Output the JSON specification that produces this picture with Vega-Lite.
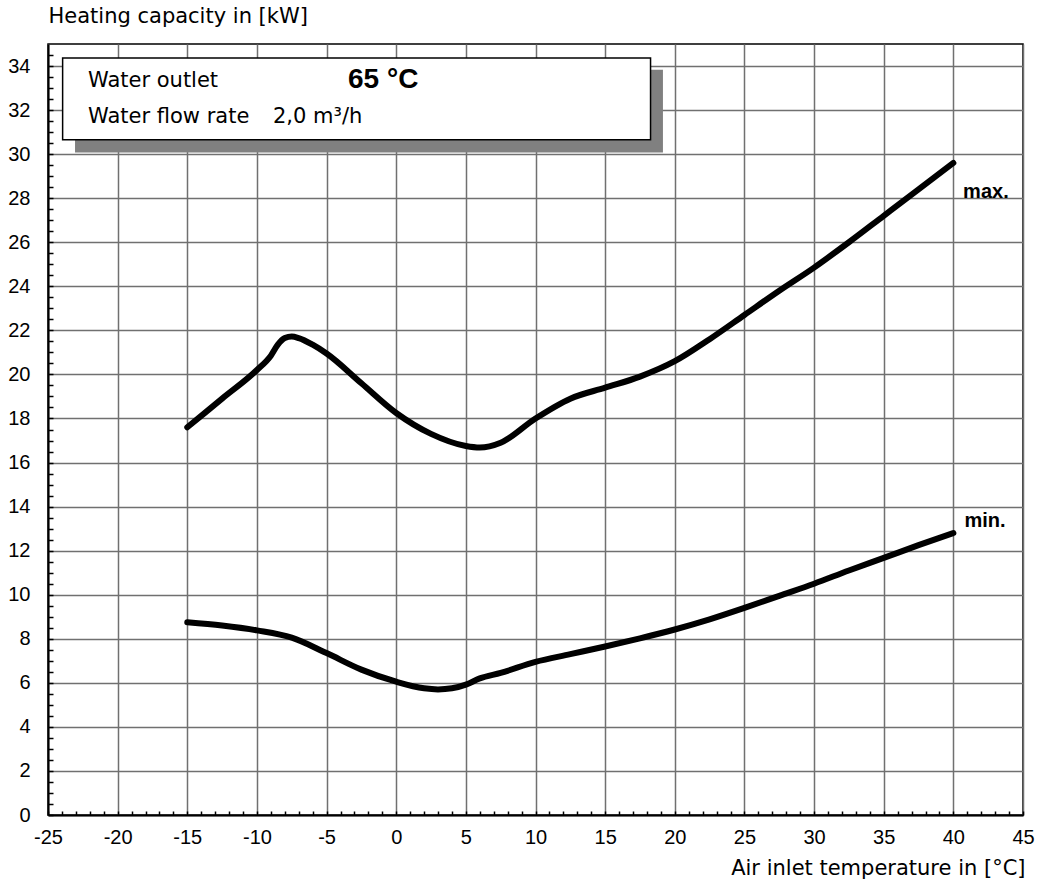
{
  "$schema": "https://vega.github.io/schema/vega-lite/v6.json",
  "width": 975,
  "height": 771,
  "autosize": {"type": "none"},
  "padding": {"left": 48, "top": 44, "right": 18, "bottom": 70},
  "background": "white",
  "config": {
    "view": {"stroke": "black", "strokeWidth": 1.5},
    "axis": {
      "labelFont": "Liberation Sans",
      "labelFontSize": 20,
      "labelColor": "black",
      "titleFont": "DejaVu Sans",
      "titleFontSize": 21,
      "titleFontWeight": "normal",
      "titleColor": "black"
    }
  },
  "data": {
    "values": [
      {"curve": "max", "t": -15, "p": 17.6},
      {"curve": "max", "t": -12.5, "p": 18.9},
      {"curve": "max", "t": -10, "p": 20.2},
      {"curve": "max", "t": -9, "p": 20.85},
      {"curve": "max", "t": -8.5, "p": 21.35},
      {"curve": "max", "t": -8, "p": 21.65},
      {"curve": "max", "t": -7.5, "p": 21.72},
      {"curve": "max", "t": -7, "p": 21.65},
      {"curve": "max", "t": -6, "p": 21.35},
      {"curve": "max", "t": -5, "p": 20.95},
      {"curve": "max", "t": -2.5, "p": 19.6},
      {"curve": "max", "t": 0, "p": 18.25},
      {"curve": "max", "t": 2.5, "p": 17.3},
      {"curve": "max", "t": 5, "p": 16.75},
      {"curve": "max", "t": 6, "p": 16.68},
      {"curve": "max", "t": 7.5, "p": 16.9},
      {"curve": "max", "t": 10, "p": 18.0},
      {"curve": "max", "t": 12.5, "p": 18.9},
      {"curve": "max", "t": 15, "p": 19.4},
      {"curve": "max", "t": 17.5, "p": 19.9},
      {"curve": "max", "t": 20, "p": 20.6},
      {"curve": "max", "t": 22.5, "p": 21.6},
      {"curve": "max", "t": 25, "p": 22.7},
      {"curve": "max", "t": 27.5, "p": 23.8},
      {"curve": "max", "t": 30, "p": 24.85},
      {"curve": "max", "t": 32.5, "p": 26.0},
      {"curve": "max", "t": 35, "p": 27.2},
      {"curve": "max", "t": 37.5, "p": 28.4},
      {"curve": "max", "t": 40, "p": 29.6},
      {"curve": "min", "t": -15, "p": 8.75},
      {"curve": "min", "t": -12.5, "p": 8.6},
      {"curve": "min", "t": -10, "p": 8.38},
      {"curve": "min", "t": -7.5, "p": 8.05},
      {"curve": "min", "t": -5, "p": 7.35},
      {"curve": "min", "t": -2.5, "p": 6.6},
      {"curve": "min", "t": 0, "p": 6.05},
      {"curve": "min", "t": 2, "p": 5.75},
      {"curve": "min", "t": 3, "p": 5.7},
      {"curve": "min", "t": 4, "p": 5.75},
      {"curve": "min", "t": 5, "p": 5.92},
      {"curve": "min", "t": 6, "p": 6.2},
      {"curve": "min", "t": 7.5, "p": 6.45},
      {"curve": "min", "t": 10, "p": 6.95},
      {"curve": "min", "t": 12.5, "p": 7.3},
      {"curve": "min", "t": 15, "p": 7.65},
      {"curve": "min", "t": 17.5, "p": 8.02},
      {"curve": "min", "t": 20, "p": 8.42},
      {"curve": "min", "t": 22.5, "p": 8.88},
      {"curve": "min", "t": 25, "p": 9.4},
      {"curve": "min", "t": 27.5, "p": 9.95},
      {"curve": "min", "t": 30, "p": 10.5},
      {"curve": "min", "t": 32.5, "p": 11.1},
      {"curve": "min", "t": 35, "p": 11.67},
      {"curve": "min", "t": 37.5, "p": 12.25},
      {"curve": "min", "t": 40, "p": 12.8}
    ]
  },
  "layer": [
    {
      "data": {"values": [{}]},
      "mark": {"type": "rect", "fill": "#808080"},
      "encoding": {
        "x": {
          "datum": -23.06, "type": "quantitative",
          "scale": {"domain": [-25, 45], "nice": false, "zero": false},
          "axis": {
            "orient": "bottom",
            "values": [-25,-24,-23,-22,-21,-20,-19,-18,-17,-16,-15,-14,-13,-12,-11,-10,-9,-8,-7,-6,-5,-4,-3,-2,-1,0,1,2,3,4,5,6,7,8,9,10,11,12,13,14,15,16,17,18,19,20,21,22,23,24,25,26,27,28,29,30,31,32,33,34,35,36,37,38,39,40,41,42,43,44,45],
            "ticks": true, "tickSize": -4, "tickColor": "black", "tickWidth": 1.5,
            "labels": false, "grid": false, "domain": false, "title": null
          }
        },
        "x2": {"datum": 19.15},
        "y": {
          "datum": 30.08, "type": "quantitative",
          "scale": {"domain": [0, 35], "nice": false, "zero": false},
          "axis": {
            "orient": "left",
            "values": [0,0.5,1,1.5,2,2.5,3,3.5,4,4.5,5,5.5,6,6.5,7,7.5,8,8.5,9,9.5,10,10.5,11,11.5,12,12.5,13,13.5,14,14.5,15,15.5,16,16.5,17,17.5,18,18.5,19,19.5,20,20.5,21,21.5,22,22.5,23,23.5,24,24.5,25,25.5,26,26.5,27,27.5,28,28.5,29,29.5,30,30.5,31,31.5,32,32.5,33,33.5,34,34.5],
            "ticks": true, "tickSize": -5, "tickColor": "black", "tickWidth": 1.5,
            "labels": false, "grid": false, "domain": false, "title": null
          }
        },
        "y2": {"datum": 33.83}
      }
    },
    {
      "data": {"values": [{}]},
      "mark": {"type": "rect", "fill": "white", "stroke": "black", "strokeWidth": 1.5},
      "encoding": {
        "x": {"datum": -23.95, "type": "quantitative", "scale": {"domain": [-25, 45], "nice": false, "zero": false}, "axis": null},
        "x2": {"datum": 18.26},
        "y": {"datum": 30.65, "type": "quantitative", "scale": {"domain": [0, 35], "nice": false, "zero": false}, "axis": null},
        "y2": {"datum": 34.36}
      }
    },
    {
      "data": {"values": [{}]},
      "mark": {"type": "text", "text": "Water outlet", "font": "DejaVu Sans", "fontSize": 21, "align": "left", "baseline": "middle", "color": "black"},
      "encoding": {
        "x": {"datum": -22.13, "type": "quantitative", "axis": null},
        "y": {"datum": 33.3, "type": "quantitative", "axis": null}
      }
    },
    {
      "data": {"values": [{}]},
      "mark": {"type": "text", "text": "65 °C", "font": "Liberation Sans", "fontSize": 28, "fontWeight": "bold", "align": "left", "baseline": "middle", "color": "black"},
      "encoding": {
        "x": {"datum": -3.46, "type": "quantitative", "axis": null},
        "y": {"datum": 33.35, "type": "quantitative", "axis": null}
      }
    },
    {
      "data": {"values": [{}]},
      "mark": {"type": "text", "text": "Water flow rate", "font": "DejaVu Sans", "fontSize": 21, "align": "left", "baseline": "middle", "color": "black"},
      "encoding": {
        "x": {"datum": -22.13, "type": "quantitative", "axis": null},
        "y": {"datum": 31.7, "type": "quantitative", "axis": null}
      }
    },
    {
      "data": {"values": [{}]},
      "mark": {"type": "text", "text": "2,0 m³/h", "font": "DejaVu Sans", "fontSize": 21, "align": "left", "baseline": "middle", "color": "black"},
      "encoding": {
        "x": {"datum": -8.85, "type": "quantitative", "axis": null},
        "y": {"datum": 31.7, "type": "quantitative", "axis": null}
      }
    },
    {
      "data": {"values": [{}]},
      "mark": {"type": "text", "text": "max.", "font": "Liberation Sans", "fontSize": 20, "fontWeight": "bold", "align": "left", "baseline": "middle", "color": "black"},
      "encoding": {
        "x": {"datum": 40.7, "type": "quantitative", "axis": null},
        "y": {"datum": 28.3, "type": "quantitative", "axis": null}
      }
    },
    {
      "data": {"values": [{}]},
      "mark": {"type": "text", "text": "min.", "font": "Liberation Sans", "fontSize": 20, "fontWeight": "bold", "align": "left", "baseline": "middle", "color": "black"},
      "encoding": {
        "x": {"datum": 40.8, "type": "quantitative", "axis": null},
        "y": {"datum": 13.36, "type": "quantitative", "axis": null}
      }
    },
    {
      "mark": {"type": "line", "color": "black", "strokeWidth": 6, "interpolate": "monotone", "strokeCap": "round", "strokeJoin": "round"},
      "encoding": {
        "x": {
          "field": "t", "type": "quantitative",
          "scale": {"domain": [-25, 45], "nice": false, "zero": false},
          "axis": {
            "orient": "bottom",
            "values": [-25,-20,-15,-10,-5,0,5,10,15,20,25,30,35,40,45],
            "labelExpr": "replace(datum.label, '\u2212', '-')",
            "grid": true, "gridColor": "#707070", "gridWidth": 1.5,
            "ticks": false, "domain": true, "domainColor": "black", "domainWidth": 2,
            "labelPadding": 12, "labelFlush": false, "labelOverlap": false,
            "title": "Air inlet temperature in [°C]",
            "titleX": 977, "titleY": 53, "titleAlign": "right", "titleBaseline": "middle"
          }
        },
        "y": {
          "field": "p", "type": "quantitative",
          "scale": {"domain": [0, 35], "nice": false, "zero": false},
          "axis": {
            "orient": "left",
            "values": [0,2,4,6,8,10,12,14,16,18,20,22,24,26,28,30,32,34],
            "grid": true, "gridColor": "#707070", "gridWidth": 1.5,
            "ticks": false, "domain": true, "domainColor": "black", "domainWidth": 2,
            "labelPadding": 18, "labelFlush": false, "labelOverlap": false,
            "title": "Heating capacity in [kW]",
            "titleAngle": 0, "titleX": 0, "titleY": -28, "titleAlign": "left", "titleBaseline": "middle"
          }
        },
        "detail": {"field": "curve"}
      }
    }
  ],
  "resolve": {"axis": {"x": "independent", "y": "independent"}}
}
